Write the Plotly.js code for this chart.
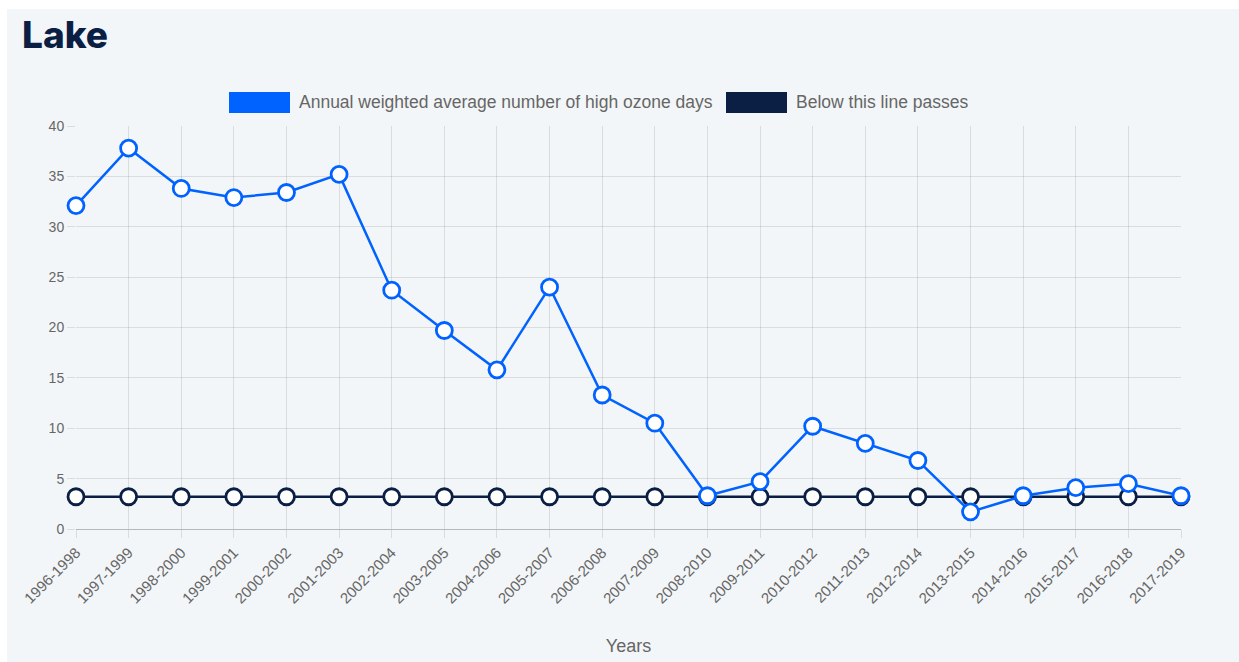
<!DOCTYPE html>
<html>
<head>
<meta charset="utf-8">
<script src="https://cdn.plot.ly/plotly-3.0.1.min.js"></script>
<style>
  html, body { margin: 0; padding: 0; background: #ffffff; width: 1239px; height: 662px; overflow: hidden; }
  #chart { position: absolute; left: 7px; top: 9px; width: 1232px; height: 653px; background: #f3f6f8; }
</style>
</head>
<body>
<div id="chart"></div>
<script>
// ---- data ----
const categories = ["1996-1998","1997-1999","1998-2000","1999-2001","2000-2002","2001-2003","2002-2004","2003-2005","2004-2006","2005-2007","2006-2008","2007-2009","2008-2010","2009-2011","2010-2012","2011-2013","2012-2014","2013-2015","2014-2016","2015-2017","2016-2018","2017-2019"];
const highOzoneDays = [32.1, 37.8, 33.8, 32.9, 33.4, 35.2, 23.7, 19.7, 15.8, 24.0, 13.3, 10.5, 3.3, 4.7, 10.2, 8.5, 6.8, 1.7, 3.3, 4.1, 4.5, 3.3];
const passLine = [3.2, 3.2, 3.2, 3.2, 3.2, 3.2, 3.2, 3.2, 3.2, 3.2, 3.2, 3.2, 3.2, 3.2, 3.2, 3.2, 3.2, 3.2, 3.2, 3.2, 3.2, 3.2];
const seriesNames = ["Annual weighted average number of high ozone days", "Below this line passes"];
const yTicks = [0, 5, 10, 15, 20, 25, 30, 35, 40];

// ---- styles ----
const BLUE = "#0062ff";
const NAVY = "#0b1f45";
const TXT = "#666666";
const GRID = "rgba(0,0,0,0.1)";
const FONT = "Liberation Sans, Arial, Helvetica, sans-serif";

// plot area in page pixels
const PX0 = 76, PX1 = 1181, PY0 = 529, PY1 = 126;
const px = (x) => (x - PX0) / (PX1 - PX0);
const py = (y) => (PY0 - y) / (PY0 - PY1);

const traces = [
  {
    x: categories, y: passLine, name: seriesNames[1], type: "scatter", mode: "lines+markers",
    line: { color: NAVY, width: 2.5 },
    marker: { size: 16, color: "#ffffff", line: { color: NAVY, width: 2.8 } },
    cliponaxis: false, showlegend: false, hoverinfo: "x+y"
  },
  {
    x: categories, y: highOzoneDays, name: seriesNames[0], type: "scatter", mode: "lines+markers",
    line: { color: BLUE, width: 2.5 },
    marker: { size: 16, color: "#ffffff", line: { color: BLUE, width: 2.8 } },
    cliponaxis: false, showlegend: false, hoverinfo: "x+y"
  }
];

const legendItems = [
  { color: BLUE, x0: 229, x1: 290, tx: 297, text: seriesNames[0] },
  { color: NAVY, x0: 726, x1: 787, tx: 794, text: seriesNames[1] }
];

const shapes = legendItems.map(it => ({
  type: "rect", xref: "paper", yref: "paper",
  x0: px(it.x0), x1: px(it.x1), y0: py(113), y1: py(92),
  fillcolor: it.color, line: { width: 0 }
}));
const annotations = legendItems.map(it => ({
  xref: "paper", yref: "paper", x: px(it.tx), y: py(102.5),
  xanchor: "left", yanchor: "middle", showarrow: false,
  text: it.text, font: { family: FONT, size: 17.5, color: TXT }
}));

const layout = {
  width: 1232, height: 653,
  paper_bgcolor: "#f3f6f8", plot_bgcolor: "rgba(0,0,0,0)",
  margin: { l: PX0 - 7, r: 1239 - PX1, t: PY1 - 9, b: 662 - PY0, pad: 0 },
  showlegend: false,
  title: {
    text: "Lake", xref: "container", yref: "container",
    x: 15 / 1232, xanchor: "left", y: 1 - 26 / 653, yanchor: "middle",
    font: { family: "Inter, Liberation Sans, sans-serif", size: 37, weight: 800, color: NAVY }
  },
  xaxis: {
    type: "category", range: [0, categories.length - 1],
    showgrid: true, gridcolor: GRID, gridwidth: 1,
    ticks: "outside", ticklen: 8, tickcolor: GRID,
    tickangle: -45, tickfont: { family: FONT, size: 15, color: TXT },
    showline: true, linecolor: "rgba(0,0,0,0.25)", linewidth: 1,
    zeroline: false, fixedrange: true,
    title: { text: "Years", font: { family: FONT, size: 18, color: TXT }, standoff: 33 }
  },
  yaxis: {
    range: [0, 40], tickvals: yTicks, ticktext: yTicks.map(String),
    showgrid: true, gridcolor: GRID, gridwidth: 1,
    ticks: "outside", ticklen: 8, tickcolor: GRID,
    tickfont: { family: FONT, size: 14, color: TXT },
    zeroline: true, zerolinecolor: "rgba(0,0,0,0.25)", zerolinewidth: 1,
    showline: false, fixedrange: true
  },
  shapes: shapes,
  annotations: annotations
};

Plotly.newPlot("chart", traces, layout, { displayModeBar: false, staticPlot: true });
</script>
</body>
</html>
